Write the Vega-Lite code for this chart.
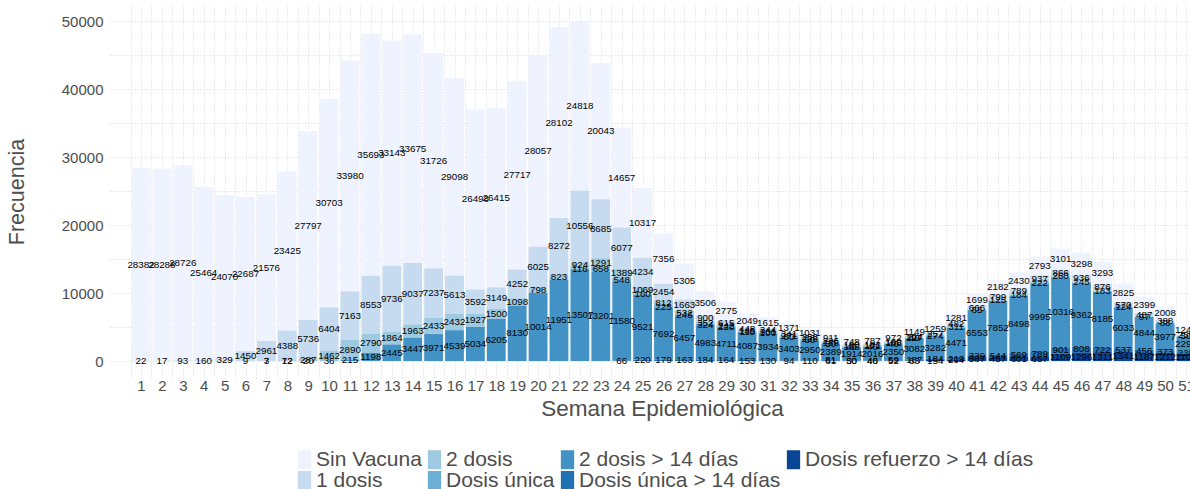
{
  "$schema": "https://vega.github.io/schema/vega-lite/v6.json",
  "width": 1080,
  "height": 373,
  "autosize": {"type": "none"},
  "padding": {"left": 110, "top": 5, "right": 0, "bottom": 111},
  "background": "white",
  "config": {"view": {"stroke": null}, "font": "Liberation Sans"},
  "datasets": {
    "casos": [
      {"semana":1,"estado":"Sin Vacuna","n":28382},{"semana":1,"estado":"1 dosis","n":22},
      {"semana":2,"estado":"Sin Vacuna","n":28288},{"semana":2,"estado":"1 dosis","n":17},
      {"semana":3,"estado":"Sin Vacuna","n":28726},{"semana":3,"estado":"1 dosis","n":93},
      {"semana":4,"estado":"Sin Vacuna","n":25464},{"semana":4,"estado":"1 dosis","n":160},
      {"semana":5,"estado":"Sin Vacuna","n":24070},{"semana":5,"estado":"1 dosis","n":329},
      {"semana":6,"estado":"Sin Vacuna","n":22687},{"semana":6,"estado":"1 dosis","n":1450},{"semana":6,"estado":"2 dosis","n":9},
      {"semana":7,"estado":"Sin Vacuna","n":21576},{"semana":7,"estado":"1 dosis","n":2961},{"semana":7,"estado":"2 dosis","n":7},{"semana":7,"estado":"2 dosis > 14 días","n":3},
      {"semana":8,"estado":"Sin Vacuna","n":23425},{"semana":8,"estado":"1 dosis","n":4388},{"semana":8,"estado":"2 dosis","n":72},{"semana":8,"estado":"2 dosis > 14 días","n":12},
      {"semana":9,"estado":"Sin Vacuna","n":27797},{"semana":9,"estado":"1 dosis","n":5736},{"semana":9,"estado":"2 dosis","n":287},{"semana":9,"estado":"2 dosis > 14 días","n":20},
      {"semana":10,"estado":"Sin Vacuna","n":30703},{"semana":10,"estado":"1 dosis","n":6404},{"semana":10,"estado":"2 dosis","n":1462},{"semana":10,"estado":"2 dosis > 14 días","n":36},
      {"semana":11,"estado":"Sin Vacuna","n":33980},{"semana":11,"estado":"1 dosis","n":7163},{"semana":11,"estado":"2 dosis","n":2890},{"semana":11,"estado":"2 dosis > 14 días","n":215},
      {"semana":12,"estado":"Sin Vacuna","n":35693},{"semana":12,"estado":"1 dosis","n":8553},{"semana":12,"estado":"2 dosis","n":2790},{"semana":12,"estado":"2 dosis > 14 días","n":1198},
      {"semana":13,"estado":"Sin Vacuna","n":33143},{"semana":13,"estado":"1 dosis","n":9736},{"semana":13,"estado":"2 dosis","n":1864},{"semana":13,"estado":"2 dosis > 14 días","n":2445},
      {"semana":14,"estado":"Sin Vacuna","n":33675},{"semana":14,"estado":"1 dosis","n":9037},{"semana":14,"estado":"2 dosis","n":1963},{"semana":14,"estado":"2 dosis > 14 días","n":3447},
      {"semana":15,"estado":"Sin Vacuna","n":31726},{"semana":15,"estado":"1 dosis","n":7237},{"semana":15,"estado":"2 dosis","n":2433},{"semana":15,"estado":"2 dosis > 14 días","n":3971},
      {"semana":16,"estado":"Sin Vacuna","n":29098},{"semana":16,"estado":"1 dosis","n":5613},{"semana":16,"estado":"2 dosis","n":2432},{"semana":16,"estado":"2 dosis > 14 días","n":4539},
      {"semana":17,"estado":"Sin Vacuna","n":26498},{"semana":17,"estado":"1 dosis","n":3592},{"semana":17,"estado":"2 dosis","n":1927},{"semana":17,"estado":"2 dosis > 14 días","n":5034},
      {"semana":18,"estado":"Sin Vacuna","n":26415},{"semana":18,"estado":"1 dosis","n":3149},{"semana":18,"estado":"2 dosis","n":1500},{"semana":18,"estado":"2 dosis > 14 días","n":6205},
      {"semana":19,"estado":"Sin Vacuna","n":27717},{"semana":19,"estado":"1 dosis","n":4252},{"semana":19,"estado":"2 dosis","n":1098},{"semana":19,"estado":"2 dosis > 14 días","n":8130},
      {"semana":20,"estado":"Sin Vacuna","n":28057},{"semana":20,"estado":"1 dosis","n":6025},{"semana":20,"estado":"2 dosis","n":798},{"semana":20,"estado":"2 dosis > 14 días","n":10014},
      {"semana":21,"estado":"Sin Vacuna","n":28102},{"semana":21,"estado":"1 dosis","n":8272},{"semana":21,"estado":"2 dosis","n":823},{"semana":21,"estado":"2 dosis > 14 días","n":11951},
      {"semana":22,"estado":"Sin Vacuna","n":24818},{"semana":22,"estado":"1 dosis","n":10556},{"semana":22,"estado":"2 dosis","n":924},{"semana":22,"estado":"Dosis única","n":116},{"semana":22,"estado":"2 dosis > 14 días","n":13507},
      {"semana":23,"estado":"Sin Vacuna","n":20043},{"semana":23,"estado":"1 dosis","n":8685},{"semana":23,"estado":"2 dosis","n":1291},{"semana":23,"estado":"Dosis única","n":658},{"semana":23,"estado":"2 dosis > 14 días","n":13201},
      {"semana":24,"estado":"Sin Vacuna","n":14657},{"semana":24,"estado":"1 dosis","n":6077},{"semana":24,"estado":"2 dosis","n":1389},{"semana":24,"estado":"Dosis única","n":548},{"semana":24,"estado":"2 dosis > 14 días","n":11580},{"semana":24,"estado":"Dosis única > 14 días","n":66},
      {"semana":25,"estado":"Sin Vacuna","n":10317},{"semana":25,"estado":"1 dosis","n":4234},{"semana":25,"estado":"2 dosis","n":1069},{"semana":25,"estado":"Dosis única","n":160},{"semana":25,"estado":"2 dosis > 14 días","n":9521},{"semana":25,"estado":"Dosis única > 14 días","n":220},
      {"semana":26,"estado":"Sin Vacuna","n":7356},{"semana":26,"estado":"1 dosis","n":2454},{"semana":26,"estado":"2 dosis","n":812},{"semana":26,"estado":"Dosis única","n":225},{"semana":26,"estado":"2 dosis > 14 días","n":7692},{"semana":26,"estado":"Dosis única > 14 días","n":179},
      {"semana":27,"estado":"Sin Vacuna","n":5305},{"semana":27,"estado":"1 dosis","n":1663},{"semana":27,"estado":"2 dosis","n":532},{"semana":27,"estado":"Dosis única","n":246},{"semana":27,"estado":"2 dosis > 14 días","n":6457},{"semana":27,"estado":"Dosis única > 14 días","n":163},
      {"semana":28,"estado":"Sin Vacuna","n":3506},{"semana":28,"estado":"1 dosis","n":900},{"semana":28,"estado":"2 dosis","n":352},{"semana":28,"estado":"Dosis única","n":324},{"semana":28,"estado":"2 dosis > 14 días","n":4983},{"semana":28,"estado":"Dosis única > 14 días","n":184},
      {"semana":29,"estado":"Sin Vacuna","n":2775},{"semana":29,"estado":"1 dosis","n":615},{"semana":29,"estado":"2 dosis","n":242},{"semana":29,"estado":"Dosis única","n":220},{"semana":29,"estado":"2 dosis > 14 días","n":4711},{"semana":29,"estado":"Dosis única > 14 días","n":164},
      {"semana":30,"estado":"Sin Vacuna","n":2049},{"semana":30,"estado":"1 dosis","n":448},{"semana":30,"estado":"2 dosis","n":145},{"semana":30,"estado":"Dosis única","n":110},{"semana":30,"estado":"2 dosis > 14 días","n":4087},{"semana":30,"estado":"Dosis única > 14 días","n":153},
      {"semana":31,"estado":"Sin Vacuna","n":1615},{"semana":31,"estado":"1 dosis","n":344},{"semana":31,"estado":"2 dosis","n":301},{"semana":31,"estado":"Dosis única","n":100},{"semana":31,"estado":"2 dosis > 14 días","n":3934},{"semana":31,"estado":"Dosis única > 14 días","n":130},
      {"semana":32,"estado":"Sin Vacuna","n":1371},{"semana":32,"estado":"1 dosis","n":341},{"semana":32,"estado":"2 dosis","n":271},{"semana":32,"estado":"Dosis única","n":80},{"semana":32,"estado":"2 dosis > 14 días","n":3403},{"semana":32,"estado":"Dosis única > 14 días","n":94},
      {"semana":33,"estado":"Sin Vacuna","n":1031},{"semana":33,"estado":"1 dosis","n":256},{"semana":33,"estado":"2 dosis","n":236},{"semana":33,"estado":"Dosis única","n":60},{"semana":33,"estado":"2 dosis > 14 días","n":2950},{"semana":33,"estado":"Dosis única > 14 días","n":110},
      {"semana":34,"estado":"Sin Vacuna","n":911},{"semana":34,"estado":"1 dosis","n":226},{"semana":34,"estado":"2 dosis","n":186},{"semana":34,"estado":"Dosis única","n":50},{"semana":34,"estado":"2 dosis > 14 días","n":2389},{"semana":34,"estado":"Dosis única > 14 días","n":81},{"semana":34,"estado":"Dosis refuerzo > 14 días","n":61},
      {"semana":35,"estado":"Sin Vacuna","n":748},{"semana":35,"estado":"1 dosis","n":190},{"semana":35,"estado":"2 dosis","n":166},{"semana":35,"estado":"Dosis única","n":40},{"semana":35,"estado":"2 dosis > 14 días","n":1914},{"semana":35,"estado":"Dosis única > 14 días","n":50},{"semana":35,"estado":"Dosis refuerzo > 14 días","n":30},
      {"semana":36,"estado":"Sin Vacuna","n":787},{"semana":36,"estado":"1 dosis","n":183},{"semana":36,"estado":"2 dosis","n":171},{"semana":36,"estado":"Dosis única","n":40},{"semana":36,"estado":"2 dosis > 14 días","n":2016},{"semana":36,"estado":"Dosis única > 14 días","n":46},{"semana":36,"estado":"Dosis refuerzo > 14 días","n":40},
      {"semana":37,"estado":"Sin Vacuna","n":972},{"semana":37,"estado":"1 dosis","n":160},{"semana":37,"estado":"2 dosis","n":188},{"semana":37,"estado":"Dosis única","n":40},{"semana":37,"estado":"2 dosis > 14 días","n":2350},{"semana":37,"estado":"Dosis única > 14 días","n":59},{"semana":37,"estado":"Dosis refuerzo > 14 días","n":52},
      {"semana":38,"estado":"Sin Vacuna","n":1149},{"semana":38,"estado":"1 dosis","n":204},{"semana":38,"estado":"2 dosis","n":127},{"semana":38,"estado":"Dosis única","n":40},{"semana":38,"estado":"2 dosis > 14 días","n":3082},{"semana":38,"estado":"Dosis única > 14 días","n":187},{"semana":38,"estado":"Dosis refuerzo > 14 días","n":63},
      {"semana":39,"estado":"Sin Vacuna","n":1259},{"semana":39,"estado":"1 dosis","n":257},{"semana":39,"estado":"2 dosis","n":274},{"semana":39,"estado":"2 dosis > 14 días","n":3282},{"semana":39,"estado":"Dosis única > 14 días","n":184},{"semana":39,"estado":"Dosis refuerzo > 14 días","n":154},
      {"semana":40,"estado":"Sin Vacuna","n":1281},{"semana":40,"estado":"1 dosis","n":482},{"semana":40,"estado":"2 dosis","n":311},{"semana":40,"estado":"2 dosis > 14 días","n":4471},{"semana":40,"estado":"Dosis única > 14 días","n":219},{"semana":40,"estado":"Dosis refuerzo > 14 días","n":204},
      {"semana":41,"estado":"Sin Vacuna","n":1699},{"semana":41,"estado":"1 dosis","n":666},{"semana":41,"estado":"2 dosis","n":65},{"semana":41,"estado":"2 dosis > 14 días","n":6553},{"semana":41,"estado":"Dosis única > 14 días","n":339},{"semana":41,"estado":"Dosis refuerzo > 14 días","n":587},
      {"semana":42,"estado":"Sin Vacuna","n":2182},{"semana":42,"estado":"1 dosis","n":799},{"semana":42,"estado":"2 dosis","n":125},{"semana":42,"estado":"2 dosis > 14 días","n":7852},{"semana":42,"estado":"Dosis única > 14 días","n":544},{"semana":42,"estado":"Dosis refuerzo > 14 días","n":457},
      {"semana":43,"estado":"Sin Vacuna","n":2430},{"semana":43,"estado":"1 dosis","n":789},{"semana":43,"estado":"2 dosis","n":184},{"semana":43,"estado":"2 dosis > 14 días","n":8498},{"semana":43,"estado":"Dosis única > 14 días","n":569},{"semana":43,"estado":"Dosis refuerzo > 14 días","n":601},
      {"semana":44,"estado":"Sin Vacuna","n":2793},{"semana":44,"estado":"1 dosis","n":937},{"semana":44,"estado":"2 dosis","n":222},{"semana":44,"estado":"2 dosis > 14 días","n":9995},{"semana":44,"estado":"Dosis única > 14 días","n":789},{"semana":44,"estado":"Dosis refuerzo > 14 días","n":657},
      {"semana":45,"estado":"Sin Vacuna","n":3101},{"semana":45,"estado":"1 dosis","n":866},{"semana":45,"estado":"2 dosis","n":260},{"semana":45,"estado":"2 dosis > 14 días","n":10316},{"semana":45,"estado":"Dosis única > 14 días","n":901},{"semana":45,"estado":"Dosis refuerzo > 14 días","n":1109},
      {"semana":46,"estado":"Sin Vacuna","n":3298},{"semana":46,"estado":"1 dosis","n":936},{"semana":46,"estado":"2 dosis","n":245},{"semana":46,"estado":"2 dosis > 14 días","n":9362},{"semana":46,"estado":"Dosis única > 14 días","n":808},{"semana":46,"estado":"Dosis refuerzo > 14 días","n":1296},
      {"semana":47,"estado":"Sin Vacuna","n":3293},{"semana":47,"estado":"1 dosis","n":876},{"semana":47,"estado":"2 dosis","n":183},{"semana":47,"estado":"2 dosis > 14 días","n":8185},{"semana":47,"estado":"Dosis única > 14 días","n":722},{"semana":47,"estado":"Dosis refuerzo > 14 días","n":1311},
      {"semana":48,"estado":"Sin Vacuna","n":2825},{"semana":48,"estado":"1 dosis","n":570},{"semana":48,"estado":"2 dosis","n":124},{"semana":48,"estado":"2 dosis > 14 días","n":6033},{"semana":48,"estado":"Dosis única > 14 días","n":537},{"semana":48,"estado":"Dosis refuerzo > 14 días","n":1341},
      {"semana":49,"estado":"Sin Vacuna","n":2399},{"semana":49,"estado":"1 dosis","n":487},{"semana":49,"estado":"2 dosis","n":97},{"semana":49,"estado":"2 dosis > 14 días","n":4844},{"semana":49,"estado":"Dosis única > 14 días","n":456},{"semana":49,"estado":"Dosis refuerzo > 14 días","n":1187},
      {"semana":50,"estado":"Sin Vacuna","n":2008},{"semana":50,"estado":"1 dosis","n":388},{"semana":50,"estado":"2 dosis","n":88},{"semana":50,"estado":"2 dosis > 14 días","n":3977},{"semana":50,"estado":"Dosis única > 14 días","n":373},{"semana":50,"estado":"Dosis refuerzo > 14 días","n":1212},
      {"semana":51,"estado":"Sin Vacuna","n":1240},{"semana":51,"estado":"1 dosis","n":250},{"semana":51,"estado":"2 dosis","n":50},{"semana":51,"estado":"2 dosis > 14 días","n":2290},{"semana":51,"estado":"Dosis única > 14 días","n":228},{"semana":51,"estado":"Dosis refuerzo > 14 días","n":1105}
    ]
  },
  "data": {"name": "casos"},
  "transform": [
    {"calculate": "indexof(['Sin Vacuna','1 dosis','2 dosis','Dosis única','2 dosis > 14 días','Dosis única > 14 días','Dosis refuerzo > 14 días'], datum.estado)", "as": "orden"}
  ],
  "encoding": {
    "x": {
      "field": "semana", "type": "quantitative",
      "scale": {"domain": [-0.4833, 51.1914], "nice": false, "zero": false, "padding": 0},
      "axis": {
        "values": [0.5,1,1.5,2,2.5,3,3.5,4,4.5,5,5.5,6,6.5,7,7.5,8,8.5,9,9.5,10,10.5,11,11.5,12,12.5,13,13.5,14,14.5,15,15.5,16,16.5,17,17.5,18,18.5,19,19.5,20,20.5,21,21.5,22,22.5,23,23.5,24,24.5,25,25.5,26,26.5,27,27.5,28,28.5,29,29.5,30,30.5,31,31.5,32,32.5,33,33.5,34,34.5,35,35.5,36,36.5,37,37.5,38,38.5,39,39.5,40,40.5,41,41.5,42,42.5,43,43.5,44,44.5,45,45.5,46,46.5,47,47.5,48,48.5,49,49.5,50,50.5,51,51.5],
        "labelExpr": "datum.value % 1 === 0 ? datum.value : ''",
        "labelOverlap": false,
        "labelFontSize": 15, "labelColor": "#4d4d4d", "labelPadding": 0,
        "ticks": false, "tickSize": 0, "domain": false,
        "grid": true, "gridColor": "#d9d9d9", "gridDash": [1, 2], "gridWidth": 1,
        "title": "Semana Epidemiológica", "titleFontSize": 22.5, "titleFontWeight": "normal", "titleColor": "#4d4d4d", "titlePadding": 4, "titleX": 552
      }
    },
    "y": {
      "field": "n", "type": "quantitative", "stack": "zero",
      "scale": {"domain": [-2496, 52417], "nice": false, "zero": false},
      "axis": {
        "values": [0,5000,10000,15000,20000,25000,30000,35000,40000,45000,50000],
        "labelExpr": "datum.value % 10000 === 0 ? datum.value : ''",
        "labelFontSize": 15, "labelColor": "#4d4d4d", "labelPadding": 7,
        "ticks": false, "tickSize": 0, "domain": false,
        "grid": true, "gridColor": "#d9d9d9", "gridDash": [1, 2], "gridWidth": 1,
        "title": "Frecuencia", "titleFontSize": 21.5, "titleFontWeight": "normal", "titleColor": "#4d4d4d", "titlePadding": 33
      }
    },
    "order": {"field": "orden", "sort": "descending"}
  },
  "layer": [
    {
      "mark": {"type": "bar", "size": 18.8, "clip": true},
      "encoding": {
        "color": {
          "field": "estado", "type": "nominal",
          "scale": {
            "domain": ["Sin Vacuna", "2 dosis", "2 dosis > 14 días", "Dosis refuerzo > 14 días", "1 dosis", "Dosis única", "Dosis única > 14 días"],
            "range": ["#eff3ff", "#9ecae1", "#4292c6", "#084594", "#c6dbef", "#6baed6", "#2171b5"]
          },
          "legend": {
            "orient": "none", "legendX": 184, "legendY": 444,
            "direction": "horizontal", "columns": 4, "title": null,
            "symbolType": "M-0.7,-1h1.4v2h-1.4z", "symbolSize": 361, "symbolStrokeWidth": 0,
            "labelFontSize": 21, "labelColor": "#4d4d4d", "labelOffset": 1,
            "columnPadding": 2, "rowPadding": -1, "gridAlign": "each", "labelLimit": 400
          }
        }
      }
    },
    {
      "mark": {"type": "text", "fontSize": 9.8, "color": "black", "clip": true},
      "encoding": {
        "y": {"field": "n", "type": "quantitative", "stack": "zero", "bandPosition": 0.5},
        "detail": {"field": "estado"},
        "text": {"field": "n", "type": "quantitative", "format": "d"}
      }
    }
  ]
}
